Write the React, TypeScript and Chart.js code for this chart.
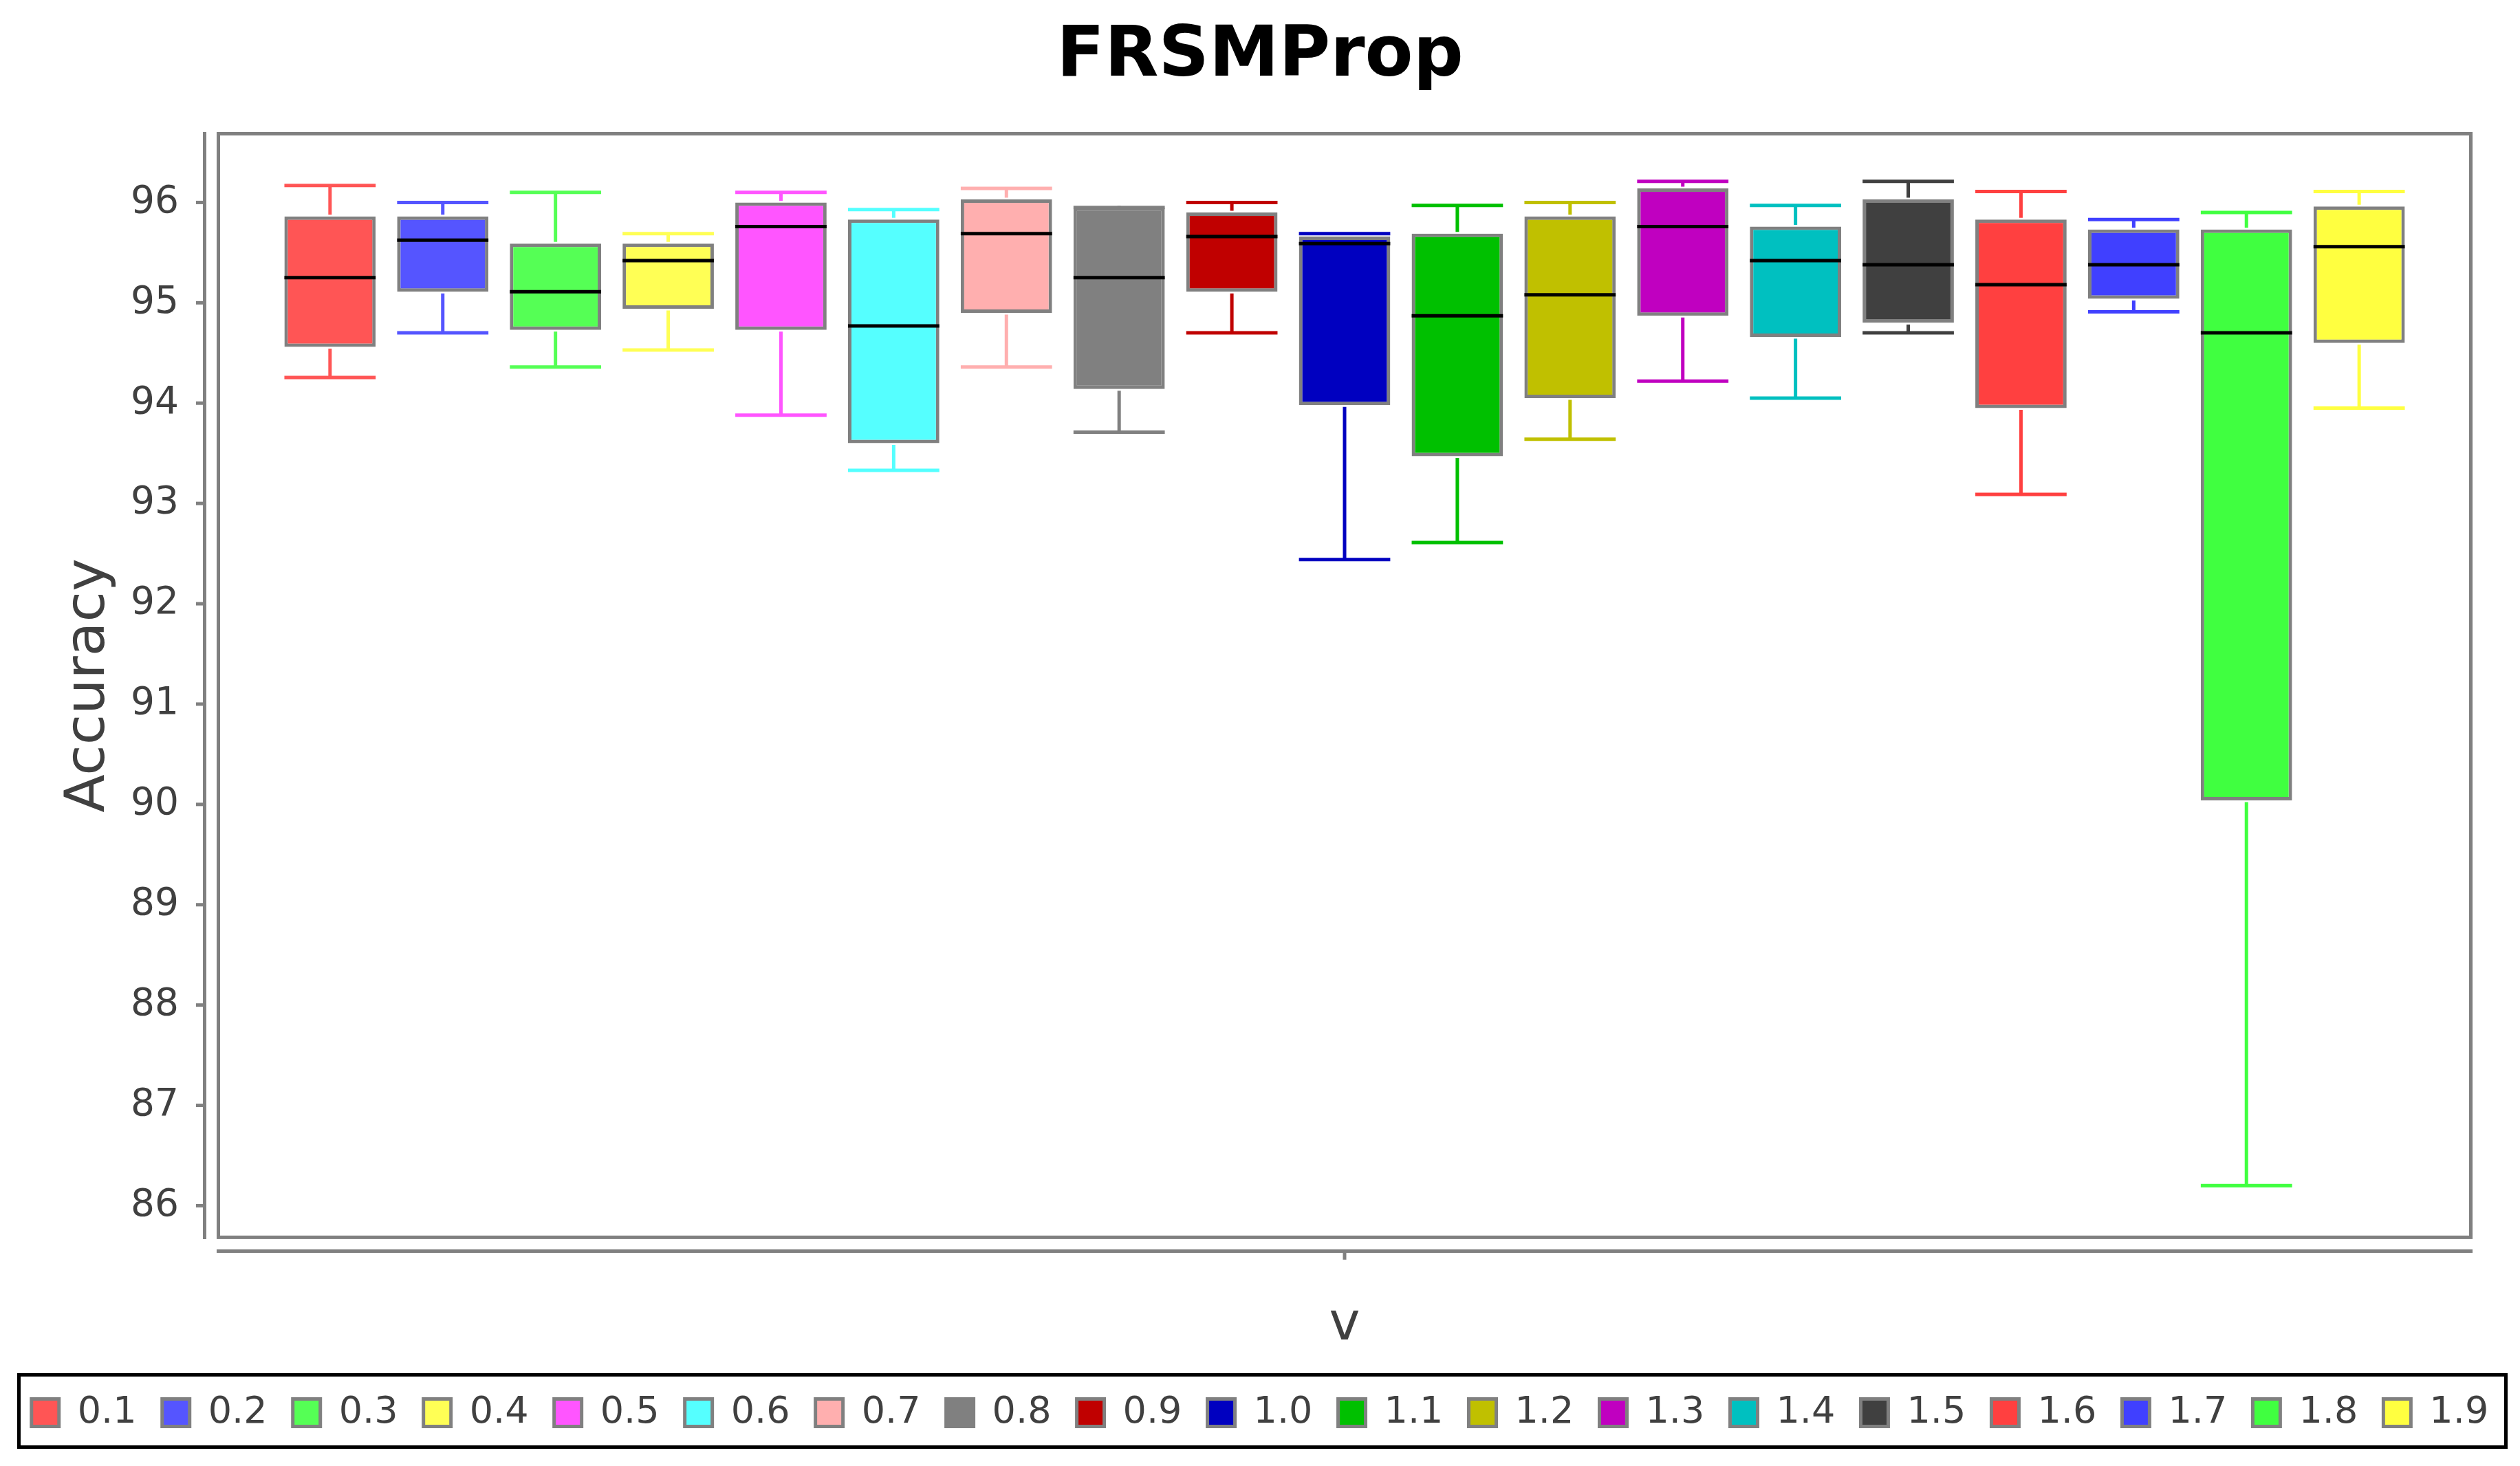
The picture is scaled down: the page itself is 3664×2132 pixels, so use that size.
import React, { useEffect, useRef } from "react";
import { Chart, registerables } from "chart.js";

Chart.register(...registerables);

// ---------- data ----------
const categories = [""];
const seriesNames = ["0.1", "0.2", "0.3", "0.4", "0.5", "0.6", "0.7", "0.8", "0.9", "1.0", "1.1", "1.2", "1.3", "1.4", "1.5", "1.6", "1.7", "1.8", "1.9"];
const mins = [94.255, 94.7, 94.36, 94.53, 93.88, 93.33, 94.36, 93.71, 94.7, 92.44, 92.61, 93.64, 94.22, 94.05, 94.7, 93.09, 94.91, 86.2, 93.95];
const q1s = [94.56, 95.11, 94.73, 94.94, 94.73, 93.6, 94.9, 94.14, 95.11, 93.98, 93.47, 94.05, 94.87, 94.66, 94.8, 93.95, 95.04, 90.04, 94.6];
const medians = [95.25, 95.625, 95.11, 95.42, 95.76, 94.77, 95.69, 95.25, 95.66, 95.59, 94.87, 95.08, 95.76, 95.42, 95.38, 95.18, 95.38, 94.7, 95.56];
const q3s = [95.86, 95.86, 95.59, 95.59, 96.0, 95.83, 96.03, 95.95, 95.9, 95.66, 95.69, 95.86, 96.14, 95.76, 96.03, 95.83, 95.73, 95.73, 95.96];
const maxs = [96.17, 96.0, 96.1, 95.69, 96.1, 95.93, 96.14, 95.95, 96.0, 95.69, 95.97, 96.0, 96.21, 95.97, 96.21, 96.11, 95.83, 95.9, 96.11];
const colors = ["#FF5555", "#5555FF", "#55FF55", "#FFFF55", "#FF55FF", "#55FFFF", "#FFAFAF", "#808080", "#C00000", "#0000C0", "#00C000", "#C0C000", "#C000C0", "#00C0C0", "#404040", "#FF4040", "#4040FF", "#40FF40", "#FFFF40"];
const yTicks = [86, 87, 88, 89, 90, 91, 92, 93, 94, 95, 96];
const yMin = 85.685;
const yMax = 96.685;
const chartTitle = "FRSMProp";
const xTitle = "v";
const yTitle = "Accuracy";

const FONT = "DejaVu Sans";
const GRAY = "#808080";
const TEXT = "#404040";

const boxPlugin = {
  id: "boxWhiskers",
  beforeDatasetsDraw(chart: any) {
    const { ctx, chartArea: a, scales } = chart;
    ctx.save();
    ctx.strokeStyle = GRAY;
    ctx.lineWidth = 5;
    ctx.lineCap = "butt";
    ctx.strokeRect(a.left, a.top, a.right - a.left, a.bottom - a.top);
    // y axis line + ticks
    const ax = a.left - 20;
    ctx.beginPath();
    ctx.moveTo(ax, a.top - 2.5);
    ctx.lineTo(ax, a.bottom + 2.5);
    ctx.stroke();
    scales.y.ticks.forEach((t: any) => {
      const py = scales.y.getPixelForValue(t.value);
      ctx.beginPath();
      ctx.moveTo(ax - 12.5, py);
      ctx.lineTo(ax, py);
      ctx.stroke();
    });
    // x axis line + tick
    const ay = a.bottom + 20;
    ctx.beginPath();
    ctx.moveTo(a.left - 2.5, ay);
    ctx.lineTo(a.right + 2.5, ay);
    ctx.stroke();
    categories.forEach((_c, i) => {
      const px = scales.x.getPixelForValue(i);
      ctx.beginPath();
      ctx.moveTo(px, ay);
      ctx.lineTo(px, ay + 12.5);
      ctx.stroke();
    });
    ctx.restore();
  },
  afterDatasetsDraw(chart: any) {
    const { ctx, scales } = chart;
    const y = scales.y;
    ctx.save();
    ctx.lineWidth = 5;
    ctx.lineCap = "butt";
    chart.data.datasets.forEach((_ds: any, i: number) => {
      const meta = chart.getDatasetMeta(i);
      if (!meta || meta.hidden) return;
      const el = meta.data[0];
      if (!el) return;
      const { x, width } = el.getProps(["x", "width"], true);
      const left = x - width / 2;
      const right = x + width / 2;
      const pMax = y.getPixelForValue(maxs[i]);
      const pQ3 = y.getPixelForValue(q3s[i]);
      const pQ1 = y.getPixelForValue(q1s[i]);
      const pMin = y.getPixelForValue(mins[i]);
      const pMed = y.getPixelForValue(medians[i]);
      ctx.strokeStyle = colors[i];
      ctx.beginPath();
      ctx.moveTo(x, pQ3 - 2.5);
      ctx.lineTo(x, pMax);
      ctx.moveTo(x, pQ1 + 2.5);
      ctx.lineTo(x, pMin);
      ctx.stroke();
      ctx.beginPath();
      ctx.moveTo(left, pMax);
      ctx.lineTo(right, pMax);
      ctx.moveTo(left, pMin);
      ctx.lineTo(right, pMin);
      ctx.stroke();
      ctx.strokeStyle = "#000000";
      ctx.beginPath();
      ctx.moveTo(left, pMed);
      ctx.lineTo(right, pMed);
      ctx.stroke();
    });
    ctx.restore();
  },
  afterDraw(chart: any) {
    const { ctx, legend } = chart;
    if (!legend) return;
    ctx.save();
    ctx.strokeStyle = "#000000";
    ctx.lineWidth = 5;
    const l = 27.5;
    const r = chart.width - 20.5;
    const t = legend.top + 9;
    const b = legend.bottom + 13;
    ctx.strokeRect(l, t, r - l, b - t);
    ctx.restore();
  },
};

export default function App() {
  const ref = useRef<HTMLCanvasElement>(null);
  useEffect(() => {
    if (!ref.current) return;
    const datasets = seriesNames.map((name, i) => ({
      label: name,
      data: categories.map(() => [q1s[i], q3s[i]] as [number, number]),
      backgroundColor: colors[i],
      borderColor: GRAY,
      borderWidth: 5,
      borderSkipped: false as const,
      yAxisID: "y",
    }));
    const chart = new Chart(ref.current, {
      type: "bar",
      data: { labels: categories, datasets },
      plugins: [boxPlugin],
      options: {
        responsive: false,
        maintainAspectRatio: false,
        animation: false,
        devicePixelRatio: 1,
        layout: { padding: { top: 0, left: 0, right: 0, bottom: 40.5 } },
        datasets: {
          bar: { categoryPercentage: 0.9509, barPercentage: 0.81 },
        },
        plugins: {
          tooltip: { enabled: false },
          title: {
            display: true,
            text: chartTitle,
            color: "#000000",
            font: { family: FONT, size: 102, weight: "bold" },
            padding: { top: 22.5, bottom: 49.6 },
          },
          legend: {
            display: true,
            position: "bottom",
            labels: {
              boxWidth: 40,
              boxHeight: 40,
              padding: 37.1,
              color: TEXT,
              font: { family: FONT, size: 54 },
            },
          },
        },
        scales: {
          x: {
            type: "category",
            position: "bottom",
            afterFit: (s: any) => {
              s.height = 191;
            },
            grid: { display: false, drawTicks: false },
            border: { display: false },
            ticks: { display: false },
            title: {
              display: true,
              text: xTitle,
              color: TEXT,
              font: { family: FONT, size: 76 },
              padding: { top: 0, bottom: 17 },
            },
          },
          y: {
            type: "linear",
            position: "left",
            min: yMin,
            max: yMax,
            afterBuildTicks: (s: any) => {
              s.ticks = yTicks.map((v) => ({ value: v }));
            },
            afterFit: (s: any) => {
              s.width = 317.5;
            },
            grid: { display: false, drawTicks: false },
            border: { display: false },
            ticks: { padding: 57.5, color: TEXT, font: { family: FONT, size: 55 } },
            title: {
              display: true,
              text: yTitle,
              color: TEXT,
              font: { family: FONT, size: 81 },
              padding: { top: 81, bottom: 0 },
            },
          },
          yR: {
            type: "linear",
            position: "right",
            display: true,
            afterFit: (s: any) => {
              s.width = 71.5;
            },
            grid: { display: false, drawTicks: false },
            border: { display: false },
            ticks: { display: false },
          },
        },
      } as any,
    });
    return () => chart.destroy();
  }, []);
  return (
    <div style={{ position: "fixed", left: 0, top: 0, width: 3664, height: 2132, background: "#ffffff" }}>
      <canvas ref={ref} width={3664} height={2132} style={{ display: "block", width: 3664, height: 2132 }} />
    </div>
  );
}
